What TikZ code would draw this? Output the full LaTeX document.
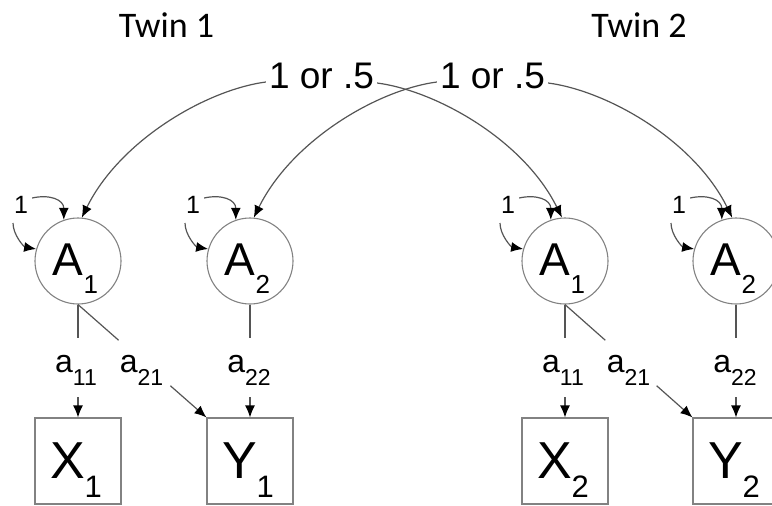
\documentclass[tikz,border=0pt]{standalone}
\usepackage{fontspec}
\setmainfont{Liberation Sans}
\newfontfamily\twinfont{Carlito}
\usetikzlibrary{arrows.meta,calc}
\newcommand{\fsz}[1]{\fontsize{#1}{#1}\selectfont}
\newcommand{\lowsub}[3]{\raisebox{-#1pt}{\fsz{#2}#3}}
\definecolor{linegray}{RGB}{85,85,85}
\definecolor{shapegray}{RGB}{130,130,130}
\begin{document}
\begin{tikzpicture}[x=1pt,y=-1pt,
  conn/.style={draw=linegray, line width=1.2pt},
  arr/.style={conn, -{Latex[length=12pt,width=10pt,color=black]}},
  latent/.style={circle, draw=shapegray, line width=1.1pt, minimum size=86pt, inner sep=0pt},
  manifest/.style={rectangle, draw=shapegray, line width=1.1pt, minimum size=86pt, inner sep=0pt},
  txt/.style={inner sep=0pt, anchor=base, text=black}
]
\useasboundingbox (0,0) rectangle (772,506);

% shapes
\node[latent] (A1a) at (78,261) {};
\node[latent] (A2a) at (250,261) {};
\node[latent] (A1b) at (565,261) {};
\node[latent] (A2b) at (736,261) {};
\node[manifest] (X1) at (78,461) {};
\node[manifest] (Y1) at (250,461) {};
\node[manifest] (X2) at (565,461) {};
\node[manifest] (Y2) at (736,461) {};

% texts in shapes
\node[txt] (tA1a) at (75.5,275) {\fsz{46}A\lowsub{18}{26}{1}};
\node[txt] (tA2a) at (247.5,275) {\fsz{46}A\lowsub{18}{26}{2}};
\node[txt] (tA1b) at (562.5,275) {\fsz{46}A\lowsub{18}{26}{1}};
\node[txt] (tA2b) at (733.5,275) {\fsz{46}A\lowsub{18}{26}{2}};
\node[txt] (tX1) at (76,478) {\fsz{52}X\lowsub{19}{31}{1}};
\node[txt] (tY1) at (248,478) {\fsz{52}Y\lowsub{19}{31}{1}};
\node[txt] (tX2) at (563,478) {\fsz{52}X\lowsub{19}{31}{2}};
\node[txt] (tY2) at (734,478) {\fsz{52}Y\lowsub{19}{31}{2}};

% headings
\node[txt] (tw1) at (166.5,37) {\twinfont\fsz{36}Twin 1};
\node[txt] (tw2) at (639,37) {\twinfont\fsz{36}Twin 2};

% correlation labels
\node[txt] (g1) at (321.5,88) {\fsz{37}1 or .5};
\node[txt] (g2) at (492.5,88) {\fsz{37}1 or .5};

% variance labels
\node[txt] (v1a) at (21,213) {\fsz{25}1};
\node[txt] (v2a) at (193,213) {\fsz{25}1};
\node[txt] (v1b) at (508,213) {\fsz{25}1};
\node[txt] (v2b) at (679,213) {\fsz{25}1};

% path labels
\node[txt] (l11a) at (76,372) {\fsz{32}a\lowsub{13}{23}{11}};
\node[txt] (l21a) at (141.5,372) {\fsz{32}a\lowsub{13}{23}{21}};
\node[txt] (l22a) at (249,372) {\fsz{32}a\lowsub{13}{23}{22}};
\node[txt] (l11b) at (563,372) {\fsz{32}a\lowsub{13}{23}{11}};
\node[txt] (l21b) at (628.5,372) {\fsz{32}a\lowsub{13}{23}{21}};
\node[txt] (l22b) at (735,372) {\fsz{32}a\lowsub{13}{23}{22}};

% correlation curves
\coordinate (g1l) at ($(g1.base west)+(-3,-6)$);
\coordinate (g1r) at ($(g1.base east)+(3,-5)$);
\coordinate (g2l) at ($(g2.base west)+(-3,-6)$);
\coordinate (g2r) at ($(g2.base east)+(3,-5)$);
\draw[arr] (g1l) .. controls ($(g1l)+(-60,8)$) and ($(A1a.85)+(38,-77)$) .. (A1a.85);
\draw[arr] (g1r) .. controls ($(g1r)+(60,8)$) and ($(A1b.94)+(-38,-77)$) .. (A1b.94);
\draw[arr] (g2l) .. controls ($(g2l)+(-60,8)$) and ($(A2a.85)+(38,-77)$) .. (A2a.85);
\draw[arr] (g2r) .. controls ($(g2r)+(60,8)$) and ($(A2b.95)+(-38,-77)$) .. (A2b.95);

% variance loops
\foreach \v/\a in {v1a/A1a, v2a/A2a, v1b/A1b, v2b/A2b}{
  \coordinate (\v u) at ($(\v.base east)+(4,-15)$);
  \coordinate (\v w) at ($(\v.base)+(-8,10)$);
  \draw[arr] (\v u) .. controls ($(\v u)+(18,-4)$) and ($(\a.109)+(0,-20)$) .. (\a.109);
  \draw[arr] (\v w) .. controls ($(\v w)+(0,12)$) and ($(\a.164)+(-12,-2)$) .. (\a.164);
}

% loadings
\foreach \a/\x/\y/\n in {A1a/X1/Y1/a, A1b/X2/Y2/b}{
  \coordinate (s11\n) at ($(\a.south)+(0,33)$);
  \coordinate (e11\n) at ($(\x.north)+(0,-20)$);
  \draw[conn] (\a.south) -- (s11\n);
  \draw[arr] (e11\n) -- (\x.north);
  \coordinate (s21\n) at ($(\a.south)!0.316!(\y.north west)$);
  \coordinate (e21\n) at ($(\a.south)!0.719!(\y.north west)$);
  \draw[conn] (\a.south) -- (s21\n);
  \draw[arr] (e21\n) -- (\y.north west);
}
\foreach \a/\y/\n in {A2a/Y1/a, A2b/Y2/b}{
  \coordinate (s22\n) at ($(\a.south)+(0,33)$);
  \coordinate (e22\n) at ($(\y.north)+(0,-20)$);
  \draw[conn] (\a.south) -- (s22\n);
  \draw[arr] (e22\n) -- (\y.north);
}
\end{tikzpicture}
\end{document}
